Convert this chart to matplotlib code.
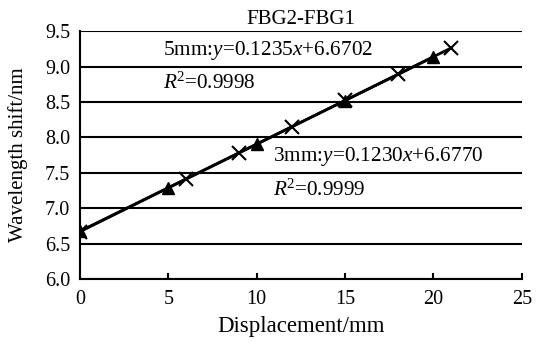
import matplotlib
matplotlib.use('Agg')
import matplotlib.pyplot as plt
import numpy as np

# 3mm sensor (triangles)
x_3mm = [0, 5, 10, 15, 20]
y_3mm = [6.68, 7.29, 7.90, 8.52, 9.14]

# 5mm sensor (crosses)
x_5mm = [0, 6, 9, 12, 15, 18, 21]
y_5mm = [6.67, 7.41, 7.78, 8.15, 8.53, 8.89, 9.26]

label_5mm = ['5mm:$y$=0.1235$x$+6.6702', '$R$$^2$=0.9998']
label_3mm = ['3mm:$y$=0.1230$x$+6.6770', '$R$$^2$=0.9999']

plt.rcParams['font.family'] = ['Liberation Serif', 'DejaVu Serif']
plt.rcParams['mathtext.fontset'] = 'custom'
plt.rcParams['mathtext.rm'] = 'Liberation Serif'
plt.rcParams['mathtext.it'] = 'Liberation Serif:italic'

fig = plt.figure(figsize=(5.38, 3.42), dpi=100)
ax = fig.add_axes([0.1487, 0.184, 0.8213, 0.725])

# trend lines fitted from the points
for xs, ys in [(x_5mm, y_5mm), (x_3mm, y_3mm)]:
    k, b = np.polyfit(xs, ys, 1)
    xx = np.array([min(xs), max(xs)])
    ax.plot(xx, k * xx + b, color='black', lw=2, zorder=3)

ax.plot(x_3mm, y_3mm, '^', color='black', ms=9, zorder=4)
ax.plot(x_5mm, y_5mm, 'x', color='black', ms=10, mew=1.5, zorder=4)

ax.set_xlim(0, 25)
ax.set_ylim(6.0, 9.5)
ax.set_xticks(range(0, 26, 5))
ax.set_yticks(np.arange(6.0, 9.51, 0.5))
ax.set_yticklabels(['%.1f' % v for v in np.arange(6.0, 9.51, 0.5)])
ax.yaxis.grid(True, color='black', lw=1.5)
ax.set_axisbelow(True)
ax.spines['top'].set_visible(False)
ax.spines['right'].set_visible(False)
ax.spines['left'].set_linewidth(1.5)
ax.spines['bottom'].set_linewidth(1.5)
ax.tick_params(axis='x', direction='in', length=4, width=1.5, labelsize=14.5, pad=8)
ax.tick_params(axis='y', length=0, labelsize=14.5, pad=7)

ax.set_xlabel('Displacement/mm', fontsize=16.5, labelpad=5)
ax.set_ylabel('Wavelength shift/nm', fontsize=15, labelpad=12)
ax.set_title('FBG2-FBG1', fontsize=15, pad=5)

ax.text(4.7, 9.23, label_5mm[0], fontsize=15.3, va='center')
ax.text(4.7, 8.77, label_5mm[1], fontsize=15.3, va='center')
ax.text(10.9, 7.73, label_3mm[0], fontsize=15.3, va='center')
ax.text(10.9, 7.25, label_3mm[1], fontsize=15.3, va='center')

fig.savefig('out.png', dpi=100)
